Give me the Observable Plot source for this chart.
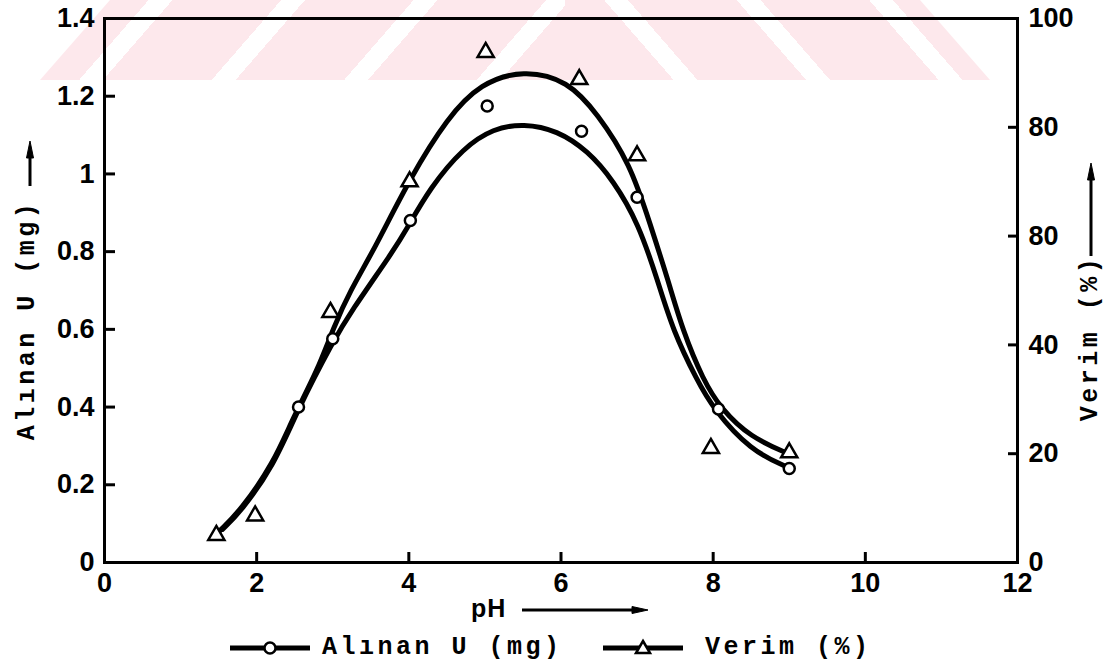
<!DOCTYPE html>
<html>
<head>
<meta charset="utf-8">
<script src="https://cdn.jsdelivr.net/npm/d3@7"></script>
<script src="https://cdn.jsdelivr.net/npm/@observablehq/plot@0.6"></script>
<style>
  body { margin: 0; background: #fff; }
  #wrap { position: relative; width: 1112px; height: 669px; overflow: hidden; background: #fff; }
  .wm { position: absolute; top: 0; height: 80px; }
  #wmL { left: 40px; width: 525px;
    background: repeating-linear-gradient(131deg, #fde8ec 0 82px, #fff 82px 100px);
    clip-path: polygon(0 100%, 70px 0, 100% 0, 100% 100%); }
  #wmR { left: 565px; width: 425px;
    background: repeating-linear-gradient(49deg, #fde8ec 0 82px, #fff 82px 100px);
    clip-path: polygon(0 0, calc(100% - 70px) 0, 100% 100%, 0 100%); }
  #chart { position: absolute; left: 0; top: 0; }
  .mono { font-family: "Liberation Mono", "DejaVu Sans Mono", monospace; font-weight: bold;
          font-size: 25px; letter-spacing: 3.5px; color: #000; white-space: nowrap; }
  .title { position: absolute; transform: translate(-50%, -50%) rotate(-90deg); }
  #ph { position: absolute; left: 471px; top: 608px; transform: translateY(-50%);
        font-family: "Liberation Sans", Arial, sans-serif; font-weight: bold; font-size: 25px; letter-spacing: 1px; }
  #arrows { position: absolute; left: 0; top: 0; pointer-events: none; }
  #legend { position: absolute; left: 0; top: 626px; width: 1112px; height: 43px; }
  #legend .sw { position: absolute; top: 12px; }
  #legend .lt { position: absolute; top: 21px; transform: translateY(-50%); }
</style>
</head>
<body>
<div id="wrap">
  <div class="wm" id="wmL"></div>
  <div class="wm" id="wmR"></div>
  <div id="chart"></div>
  <div class="mono title" style="left:27px; top:320px;">Alınan U (mg)</div>
  <div class="mono title" style="left:1090px; top:338px;">Verim (%)</div>
  <div id="ph">pH</div>
  <svg id="arrows" width="1112" height="669">
    <g stroke="#000" stroke-width="3" fill="#000">
      <line x1="30" y1="186" x2="30" y2="152"/>
      <path d="M30,141 L26.5,158 L33.5,158 Z" stroke-width="1"/>
      <line x1="1091" y1="256" x2="1091" y2="175"/>
      <path d="M1091,163 L1087.5,180 L1094.5,180 Z" stroke-width="1"/>
      <line x1="522" y1="610" x2="636" y2="610"/>
      <path d="M648,610 L632,606.5 L632,613.5 Z" stroke-width="1"/>
    </g>
  </svg>
  <div id="legend"></div>
</div>
<script>
// ---- data ----
const xTicks = [0, 2, 4, 6, 8, 10, 12];
const leftTicks = [0, 0.2, 0.4, 0.6, 0.8, 1, 1.2, 1.4];
const leftTickLabels = ["0", "0.2", "0.4", "0.6", "0.8", "1", "1.2", "1.4"];
const rightTicks = [0, 20, 40, 60, 80, 100];
const rightTickLabels = ["0", "20", "40", "80", "80", "100"];
const seriesNames = ["Alınan U (mg)", "Verim (%)"];

// measured points
const phU = [2.55, 3.0, 4.02, 5.03, 6.27, 7.0, 8.07, 9.0];
const alinanU = [0.40, 0.576, 0.88, 1.175, 1.11, 0.94, 0.395, 0.242];
const phV = [1.47, 1.98, 2.97, 4.01, 5.01, 6.24, 7.0, 7.97, 9.0];
const verim = [5.0, 8.6, 46.0, 70.0, 93.8, 88.8, 74.8, 21.0, 20.2];

// hand-drawn fitted curves
const fitUx = [1.55, 1.79, 2.22, 2.54, 3.01, 3.23, 3.80, 3.96, 4.28, 4.72, 5.11, 5.51, 5.95, 6.35, 6.69, 7.02, 7.27, 7.47, 7.79, 8.00, 8.49, 8.99];
const fitUy = [0.085, 0.131, 0.247, 0.394, 0.571, 0.643, 0.803, 0.854, 0.965, 1.068, 1.117, 1.130, 1.112, 1.060, 0.983, 0.872, 0.726, 0.597, 0.468, 0.396, 0.288, 0.244];
const fitVx = [1.52, 1.79, 2.22, 2.48, 2.80, 3.01, 3.23, 3.54, 4.02, 4.51, 4.94, 5.51, 6.09, 6.48, 6.91, 7.17, 7.41, 7.60, 7.87, 8.10, 8.49, 8.99];
const fitVy = [5.9, 9.6, 18.2, 26.7, 35.3, 43.2, 50.0, 57.4, 70.8, 81.8, 88.1, 90.6, 88.6, 82.5, 73.3, 62.3, 51.8, 42.6, 33.5, 28.3, 23.0, 20.0];

// right axis: 100 % corresponds to 1.4 mg on the left axis
const pctToMg = 1.4 / 100;

// ---- tables for the library ----
const uPts = phU.map((x, i) => ({ph: x, val: alinanU[i]}));
const vPts = phV.map((x, i) => ({ph: x, val: verim[i] * pctToMg}));
const uFit = fitUx.map((x, i) => ({ph: x, val: fitUy[i]}));
const vFit = fitVx.map((x, i) => ({ph: x, val: fitVy[i] * pctToMg}));
const leftMap = new Map(leftTicks.map((t, i) => [t, leftTickLabels[i]]));
const rightMg = rightTicks.map(t => t * pctToMg);
const rightMap = new Map(rightMg.map((t, i) => [t, rightTickLabels[i]]));

const numFont = '"Liberation Sans", Arial, sans-serif';

const chart = Plot.plot({
  width: 1112, height: 626,
  marginLeft: 104, marginRight: 95, marginTop: 18, marginBottom: 64,
  style: {background: "transparent", fontFamily: numFont, fontSize: "27px", fontWeight: "bold", color: "#000", overflow: "visible"},
  x: {domain: [0, 12], axis: null},
  y: {domain: [0, 1.4], axis: null},
  marks: [
    Plot.axisX(xTicks, {label: null, tickSize: -10, tickPadding: 20, strokeWidth: 3, tickFormat: d => String(d)}),
    Plot.axisY(leftTicks, {anchor: "left", label: null, tickSize: -11, tickPadding: 21, strokeWidth: 3, tickFormat: d => leftMap.get(d)}),
    Plot.axisY(rightMg, {anchor: "right", label: null, tickSize: -10, tickPadding: 21, strokeWidth: 3, tickFormat: d => rightMap.get(d)}),
    Plot.frame({stroke: "#000", strokeWidth: 3}),
    Plot.line(vFit, {x: "ph", y: "val", curve: "basis", stroke: "#000", strokeWidth: 5, strokeLinecap: "round"}),
    Plot.line(uFit, {x: "ph", y: "val", curve: "basis", stroke: "#000", strokeWidth: 5, strokeLinecap: "round"}),
    Plot.dot(uPts, {x: "ph", y: "val", r: 5.5, fill: "white", stroke: "#000", strokeWidth: 2.5}),
    Plot.dot(vPts, {x: "ph", y: "val", symbol: "triangle", r: 6, fill: "white", stroke: "#000", strokeWidth: 2.5})
  ]
});
document.getElementById("chart").appendChild(chart);

// ---- legend below the chart ----
const legend = document.getElementById("legend");
const legendLeft = [230, 603];
const textLeft = [322, 705];
seriesNames.forEach((name, i) => {
  const ns = "http://www.w3.org/2000/svg";
  const sw = document.createElementNS(ns, "svg");
  sw.setAttribute("class", "sw");
  sw.setAttribute("width", 80); sw.setAttribute("height", 20);
  sw.style.left = legendLeft[i] + "px";
  const ln = document.createElementNS(ns, "line");
  ln.setAttribute("x1", 0); ln.setAttribute("x2", 80); ln.setAttribute("y1", 10); ln.setAttribute("y2", 10);
  ln.setAttribute("stroke", "#000"); ln.setAttribute("stroke-width", 5);
  sw.appendChild(ln);
  let m;
  if (i === 0) {
    m = document.createElementNS(ns, "circle");
    m.setAttribute("cx", 40); m.setAttribute("cy", 10); m.setAttribute("r", 5.5);
  } else {
    m = document.createElementNS(ns, "path");
    m.setAttribute("d", "M40,3 L47,15 L33,15 Z");
  }
  m.setAttribute("fill", "white"); m.setAttribute("stroke", "#000"); m.setAttribute("stroke-width", 2.5);
  sw.appendChild(m);
  legend.appendChild(sw);
  const t = document.createElement("span");
  t.className = "mono lt";
  t.style.left = textLeft[i] + "px";
  t.textContent = name;
  legend.appendChild(t);
});
</script>
</body>
</html>
